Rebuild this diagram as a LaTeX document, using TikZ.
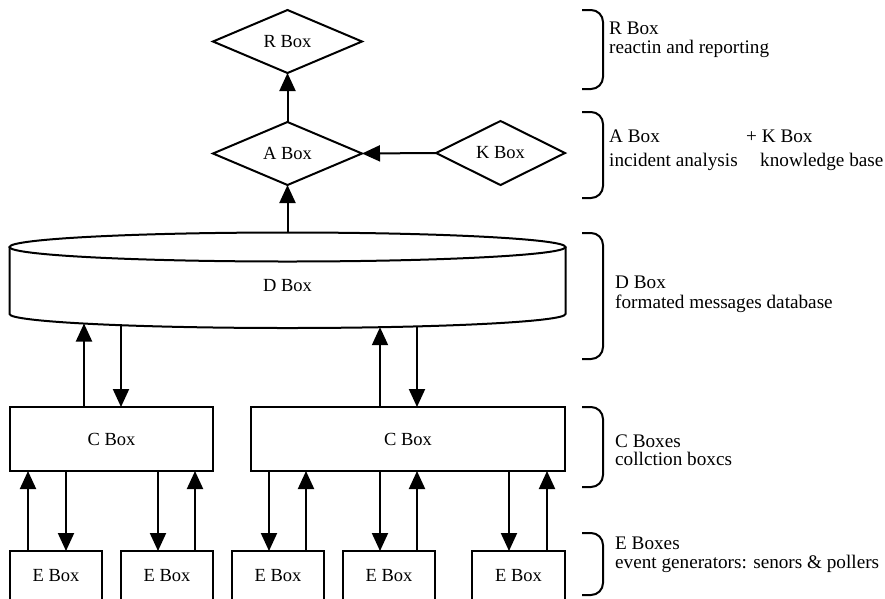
\documentclass[tikz,border=0pt]{standalone}
\usepackage{fontspec}
\setmainfont{Liberation Serif}
\usetikzlibrary{shapes.geometric,arrows.meta}
\newcommand{\ndfont}{\fontsize{18.5}{20}\selectfont}
\newcommand{\lbfont}{\fontsize{19.2}{21}\selectfont}
\begin{document}
\begin{tikzpicture}[x=1pt,y=-1pt,
  lw/.style={line width=2pt},
  dia/.style={diamond, draw, lw, inner sep=0pt, outer sep=0pt, font=\ndfont},
  box/.style={rectangle, draw, lw, inner sep=0pt, outer sep=0pt, font=\ndfont},
  ebox/.style={box, minimum width=92pt, minimum height=50pt},
  arr/.style={lw, -{Triangle[length=18pt,width=16pt]}},
  brace/.style={lw, rounded corners=12pt},
  lab/.style={anchor=base west, inner sep=0pt, font=\lbfont}]
\useasboundingbox (0,0) rectangle (885,598);
\clip (0,0) rectangle (885,598);

% diamonds
\node[dia, minimum width=149pt, minimum height=63pt] (R) at (287.5,41.5) {R Box};
\node[dia, minimum width=149pt, minimum height=63pt] (A) at (287.5,153.5) {A Box};
\node[dia, minimum width=129pt, minimum height=64pt] (K) at (500.5,153) {K Box};

% cylinder D
\draw[lw] (287.5,247) ellipse [x radius=278, y radius=14.5];
\draw[lw] (9.5,247) -- (9.5,314) arc[start angle=180, end angle=0, x radius=278, y radius=14] -- (565.5,247);
\node[inner sep=0pt, font=\ndfont] (D) at (287.5,286) {D Box};
\coordinate (Dtop) at (287.5,232.5);
\coordinate (q1) at (84,323.5);
\coordinate (q2) at (121,325.2);
\coordinate (q3) at (380,327.2);
\coordinate (q4) at (417,326.4);

% C boxes
\node[box, minimum width=203pt, minimum height=64pt] (C1) at (111.5,439) {C Box};
\node[box, minimum width=314pt, minimum height=64pt] (C2) at (408,439) {C Box};

% E boxes
\node[ebox] (E1) at (56,576) {E Box};
\node[ebox] (E2) at (167,576) {E Box};
\node[ebox] (E3) at (278,576) {E Box};
\node[ebox] (E4) at (389,576) {E Box};
\node[ebox, minimum width=93pt] (E5) at (518.5,576) {E Box};

% arrow x positions
\coordinate (p1) at (28,0);
\coordinate (p2) at (66,0);
\coordinate (p3) at (158,0);
\coordinate (p4) at (195,0);
\coordinate (p5) at (269,0);
\coordinate (p6) at (306,0);
\coordinate (p7) at (380,0);
\coordinate (p8) at (417,0);
\coordinate (p9) at (509,0);
\coordinate (p10) at (547,0);

% top arrows
\draw[arr] (A.north) -- (R.south);
\draw[arr] (K.west) -- (A.east);
\draw[arr] (Dtop) -- (A.south);

% D <-> C
\draw[arr] (C1.north -| q1) -- (q1);
\draw[arr] (q2) -- (C1.north -| q2);
\draw[arr] (C2.north -| q3) -- (q3);
\draw[arr] (q4) -- (C2.north -| q4);

% C <-> E
\draw[arr] (E1.north -| p1) -- (C1.south -| p1);
\draw[arr] (C1.south -| p2) -- (E1.north -| p2);
\draw[arr] (C1.south -| p3) -- (E2.north -| p3);
\draw[arr] (E2.north -| p4) -- (C1.south -| p4);
\draw[arr] (C2.south -| p5) -- (E3.north -| p5);
\draw[arr] (E3.north -| p6) -- (C2.south -| p6);
\draw[arr] (C2.south -| p7) -- (E4.north -| p7);
\draw[arr] (E4.north -| p8) -- (C2.south -| p8);
\draw[arr] (C2.south -| p9) -- (E5.north -| p9);
\draw[arr] (E5.north -| p10) -- (C2.south -| p10);

% braces
\draw[brace] (582,10) -- (603,10) -- (603,89) -- (582,89);
\draw[brace] (582,112) -- (603,112) -- (603,198) -- (582,198);
\draw[brace] (582,233) -- (603,233) -- (603,359) -- (582,359);
\draw[brace] (582,407) -- (603,407) -- (603,487) -- (582,487);
\draw[brace] (582,533) -- (603,533) -- (603,595) -- (582,595);

% labels
\node[lab] (lR1) at (609,34) {R Box};
\node[lab] (lR2) at (609,53) {reactin and reporting};
\node[lab] (lA1) at (609,142) {A Box};
\node[lab] (lK1) at (746,142) {+ K Box};
\node[lab] (lA2) at (609,166) {incident analysis};
\node[lab] (lK2) at (760,166) {knowledge base};
\node[lab] (lD1) at (615,288) {D Box};
\node[lab] (lD2) at (615,308) {formated messages database};
\node[lab] (lC1) at (615,447) {C Boxes};
\node[lab] (lC2) at (615,465) {collction boxcs};
\node[lab] (lE1) at (615,549) {E Boxes};
\node[lab] (lE2) at (615,568) {event generators: senors \& pollers};
\end{tikzpicture}
\end{document}
